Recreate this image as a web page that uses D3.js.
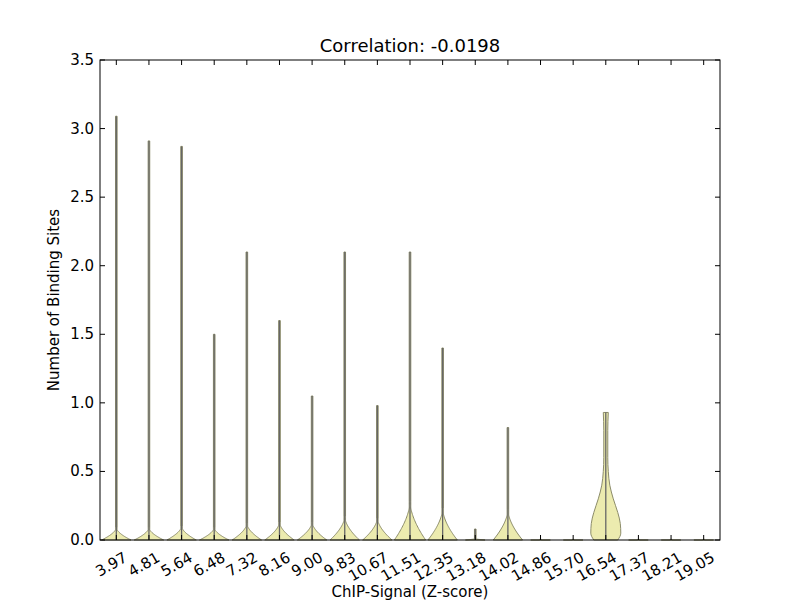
<!DOCTYPE html><html><head><script src="https://cdn.jsdelivr.net/npm/d3@7"></script>
<style>body{margin:0;background:#fff}text{font-family:"DejaVu Sans",sans-serif}</style></head><body>
<script>
const categories=["3.97","4.81","5.64","6.48","7.32","8.16","9.00","9.83","10.67","11.51","12.35","13.18","14.02","14.86","15.70","16.54","17.37","18.21","19.05"];
const maxValues=[3.09,2.91,2.87,1.50,2.10,1.60,1.05,2.10,0.98,2.10,1.40,0.08,0.82,0,0,0.93,0,0,0];
const bulgeHeights=[0.09,0.09,0.10,0.09,0.12,0.13,0.13,0.17,0.16,0.28,0.23,0.01,0.22,0,0,0.60,0,0,0];
const bulgeWidths=[0.45,0.45,0.45,0.45,0.45,0.45,0.45,0.45,0.45,0.48,0.45,0.3,0.45,0.3,0.3,0.48,0.3,0.3,0.3];
const yTicks=[0,0.5,1,1.5,2,2.5,3,3.5];
const W=800,H=600,m={l:100,r:80,t:60,b:60};
const svg=d3.select("body").append("svg").attr("width",W).attr("height",H);
const x=d3.scaleLinear().domain([0.5,19.5]).range([m.l,W-m.r]);
const y=d3.scaleLinear().domain([0,3.5]).range([H-m.b,m.t]);
const g=svg.append("g");
categories.forEach((c,i)=>{
  const cx=x(i+1),mx=maxValues[i],bh=bulgeHeights[i],bw=(x(1)-x(0))*bulgeWidths[i];
  const pts=[];
  if(i===15){
    const prof=[[0,12],[0.05,15],[0.12,14.5],[0.2,12],[0.3,7.5],[0.4,4],[0.5,2.5],[0.6,2],[0.8,2],[0.93,2.5]];
    prof.forEach(p=>pts.push({v:p[0],w:p[1]}));
  } else {
    const top=Math.max(mx,0.005),n=30;
    for(let k=0;k<=n;k++){const v=bh*k/n;const t=k/n;pts.push({v:v,w:Math.max(bw*Math.pow(1-t,1.7),0.8)});}
    if(top>bh)pts.push({v:top,w:0.8});
  }
  const area=d3.area().y(d=>y(d.v)).x0(d=>cx-d.w).x1(d=>cx+d.w).curve(d3.curveMonotoneY);
  g.append("path").attr("d",area(pts)).attr("fill","rgba(221,219,110,0.55)").attr("stroke","#8c8c6a").attr("stroke-width",1);
  if(mx>0)g.append("line").attr("x1",cx).attr("x2",cx).attr("y1",y(0)).attr("y2",y(mx)).attr("stroke","#666").attr("stroke-width",1.3);
  g.append("line").attr("x1",cx).attr("x2",cx).attr("y1",y(0)).attr("y2",y(0)-5).attr("stroke","#000");
});
svg.append("rect").attr("x",m.l).attr("y",m.t).attr("width",W-m.l-m.r).attr("height",H-m.t-m.b).attr("fill","none").attr("stroke","#000");
const ya=svg.append("g");
yTicks.forEach(t=>{
  ya.append("line").attr("x1",m.l).attr("x2",m.l+5).attr("y1",y(t)).attr("y2",y(t)).attr("stroke","#000");
  ya.append("line").attr("x1",W-m.r).attr("x2",W-m.r-5).attr("y1",y(t)).attr("y2",y(t)).attr("stroke","#000");
  ya.append("text").attr("x",m.l-6).attr("y",y(t)+5).attr("text-anchor","end").attr("font-size",15).text(t.toFixed(1));
});
categories.forEach((c,i)=>{
  const cx=x(i+1);
  svg.append("line").attr("x1",cx).attr("x2",cx).attr("y1",m.t).attr("y2",m.t+5).attr("stroke","#000");
  svg.append("text").attr("transform",`translate(${cx+6},${H-m.b+10}) rotate(-30)`).attr("text-anchor","end").attr("dy","0.8em").attr("font-size",15).text(c);
});
svg.append("text").attr("x",(m.l+W-m.r)/2).attr("y",52).attr("text-anchor","middle").attr("font-size",18).text("Correlation: -0.0198");
svg.append("text").attr("x",(m.l+W-m.r)/2).attr("y",597).attr("text-anchor","middle").attr("font-size",15).text("ChIP-Signal (Z-score)");
svg.append("text").attr("transform",`translate(59,${(m.t+H-m.b)/2}) rotate(-90)`).attr("text-anchor","middle").attr("font-size",15).text("Number of Binding Sites");
</script></body></html>
